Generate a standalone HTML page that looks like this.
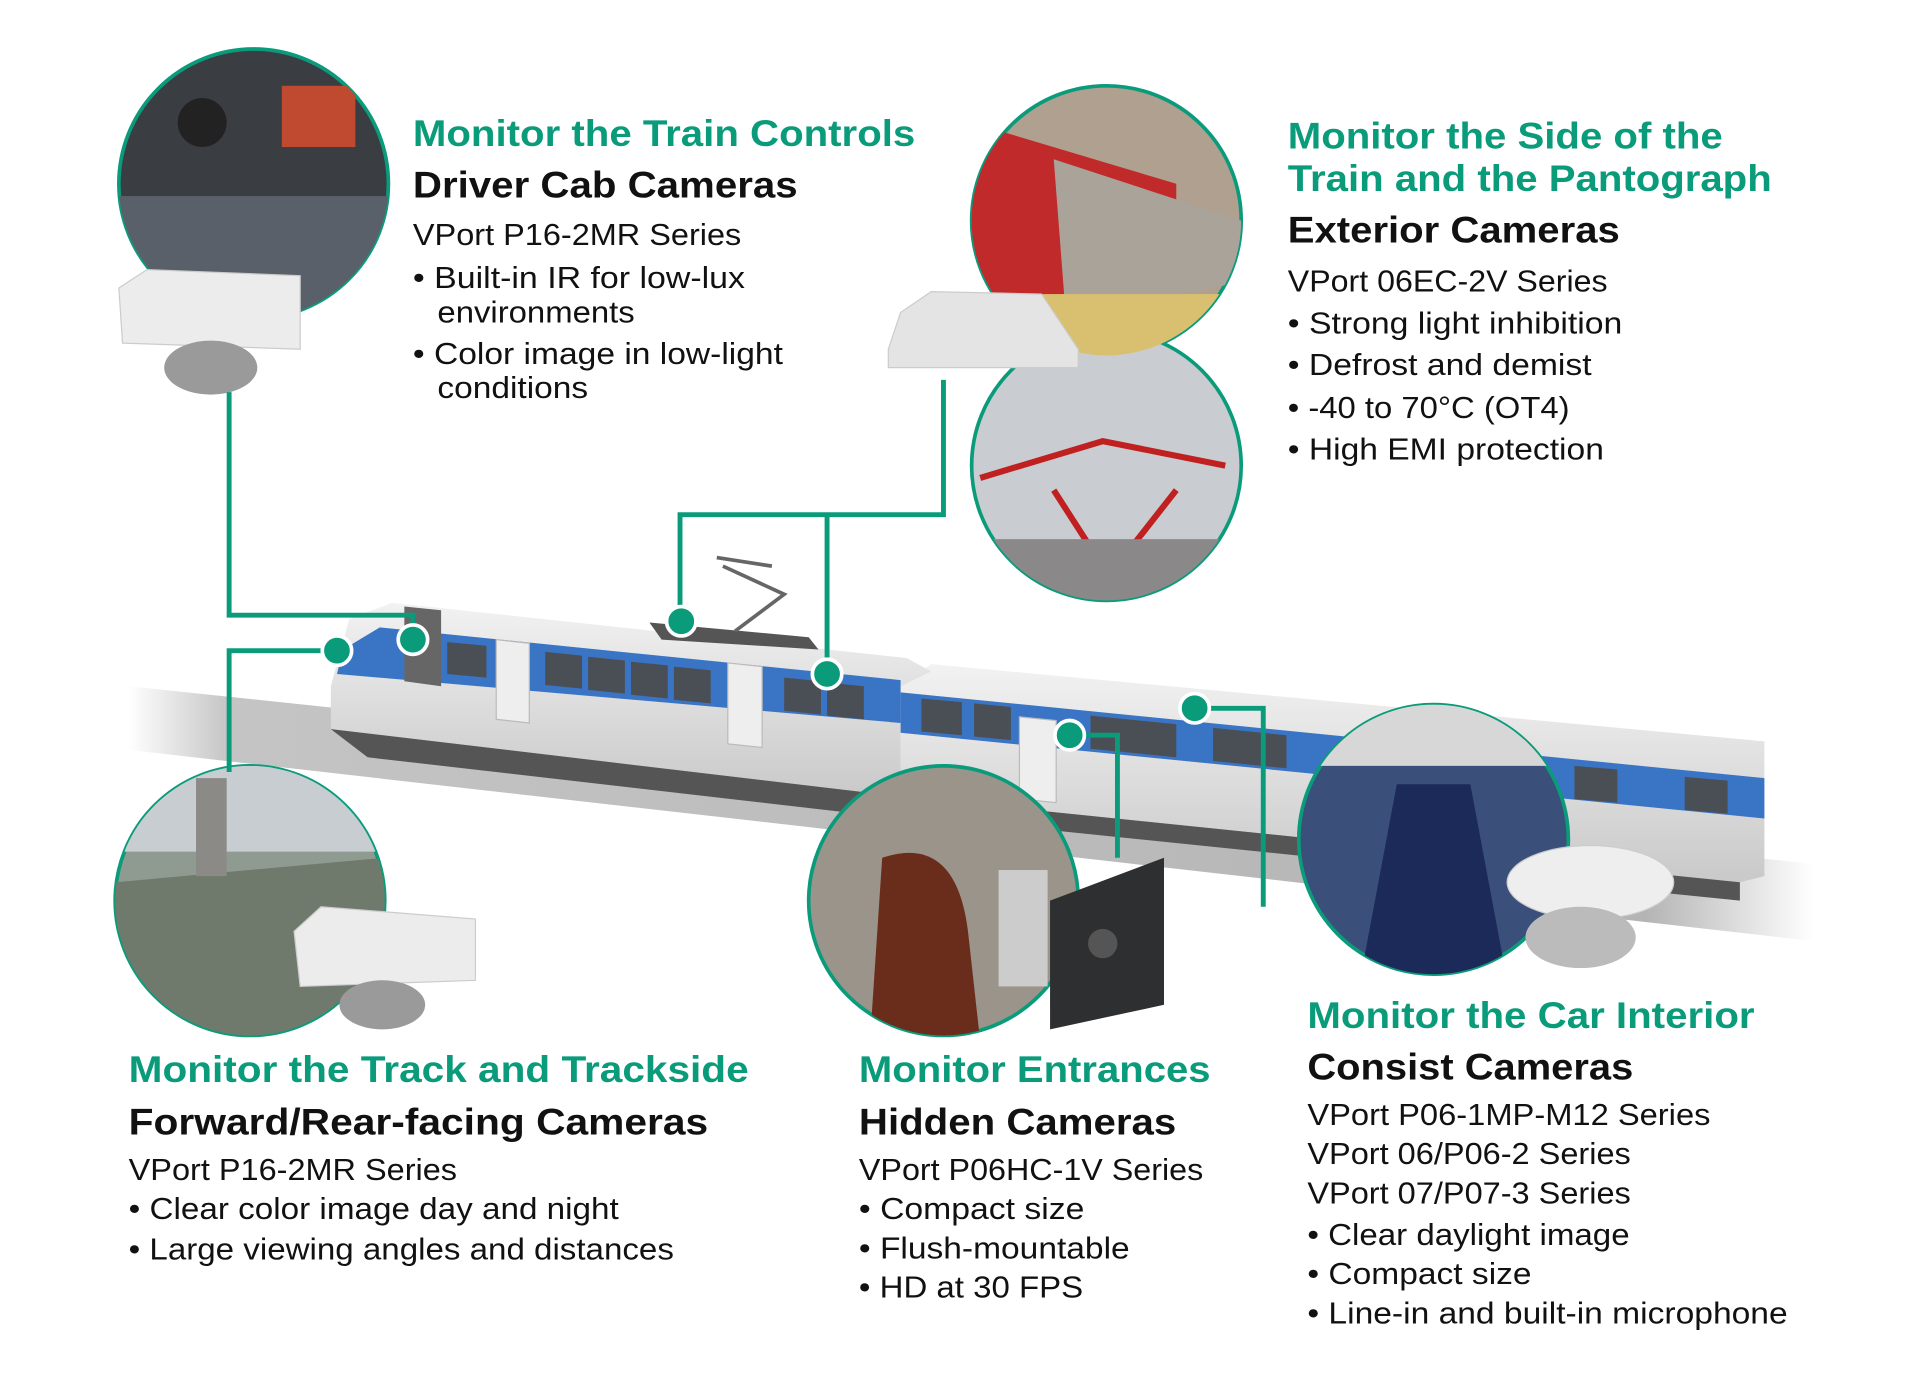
<!DOCTYPE html>
<html><head><meta charset="utf-8"><style>
html,body{margin:0;padding:0;background:#fff;}
svg{display:block;}
.g{fill:#0a9b7b;font-family:"Liberation Sans",sans-serif;font-weight:bold;font-size:30px;}
.b{fill:#111;font-family:"Liberation Sans",sans-serif;font-weight:bold;font-size:30px;}
.r{fill:#111;font-family:"Liberation Sans",sans-serif;font-size:25px;}
</style></head><body>
<svg width="1920" height="1381" viewBox="0 0 1567 1127" preserveAspectRatio="none" xmlns="http://www.w3.org/2000/svg">
<defs>
<linearGradient id="trk" x1="0" y1="0" x2="1" y2="0"><stop offset="0" stop-color="#fff"/><stop offset="0.06" stop-color="#c4c4c4"/><stop offset="0.9" stop-color="#b4b4b4"/><stop offset="1" stop-color="#fff"/></linearGradient>
<linearGradient id="body" x1="0" y1="0" x2="0" y2="1"><stop offset="0" stop-color="#f2f2f2"/><stop offset="1" stop-color="#c9c9c9"/></linearGradient>
<clipPath id="c1"><circle cx="207" cy="150" r="110"/></clipPath>
<clipPath id="c2"><circle cx="903" cy="180" r="110"/></clipPath>
<clipPath id="c3"><circle cx="903" cy="380" r="110"/></clipPath>
<clipPath id="c4"><circle cx="204" cy="735" r="110"/></clipPath>
<clipPath id="c5"><circle cx="770" cy="735" r="110"/></clipPath>
<clipPath id="c6"><circle cx="1170" cy="685" r="110"/></clipPath>
</defs>
<polygon points="105,560 1480,705 1480,768 105,612" fill="url(#trk)"/>
<polygon points="735,560 760,542 1440,605 1440,715 1420,720 735,650" fill="url(#body)"/>
<polygon points="735,565 1440,635 1440,668 735,598" fill="#3a74c4"/>
<g fill="#4a4f55">
<polygon points="752,570 785,573 785,600 752,597"/><polygon points="795,574 825,577 825,604 795,601"/>
<polygon points="890,584 960,591 960,618 890,611"/><polygon points="990,594 1050,600 1050,627 990,621"/>
<polygon points="1285,625 1320,628 1320,655 1285,652"/><polygon points="1375,634 1410,637 1410,664 1375,661"/></g>
<polygon points="735,650 1420,720 1420,735 735,665" fill="#555"/>
<polygon points="270,560 285,505 320,492 740,537 760,548 735,560 735,650 270,595" fill="url(#body)"/>
<polygon points="280,530 310,512 735,555 735,590 275,550" fill="#3a74c4"/>
<polygon points="330,495 360,498 360,560 330,556" fill="#666"/>
<g fill="#4a4f55">
<polygon points="365,524 397,527 397,553 365,550"/><polygon points="445,532 475,535 475,562 445,559"/>
<polygon points="480,536 510,539 510,566 480,563"/><polygon points="515,540 545,543 545,570 515,567"/>
<polygon points="550,544 580,547 580,574 550,571"/><polygon points="640,553 670,556 670,583 640,580"/>
<polygon points="675,557 705,560 705,587 675,584"/></g>
<g fill="#eee" stroke="#bbb"><polygon points="405,522 432,525 432,590 405,587"/><polygon points="594,541 622,544 622,610 594,607"/><polygon points="832,585 862,588 862,655 832,652"/></g>
<polygon points="270,595 735,650 735,668 300,618" fill="#555"/>
<polygon points="530,508 660,520 668,530 540,522" fill="#555"/>
<path d="M600,515 L640,485 L590,462 M585,455 L630,462" stroke="#666" stroke-width="3" fill="none"/>
<g stroke="#0a9b7b" stroke-width="3">
<circle cx="207" cy="150" r="110" fill="#3a3d42"/>
<circle cx="903" cy="180" r="110" fill="#b0a090"/>
<circle cx="903" cy="380" r="110" fill="#c9ccd0"/>
<circle cx="204" cy="735" r="110" fill="#8f9a90"/>
<circle cx="770" cy="735" r="110" fill="#9a948a"/>
<circle cx="1170" cy="685" r="110" fill="#3a4f7a"/>
</g>
<g clip-path="url(#c1)"><rect x="97" y="160" width="220" height="100" fill="#5a6069"/><rect x="230" y="70" width="60" height="50" fill="#c04a30"/><circle cx="165" cy="100" r="20" fill="#222"/></g>
<g clip-path="url(#c2)"><polygon points="793,100 960,150 960,250 793,250" fill="#c02a2a"/><polygon points="860,130 1013,180 1013,230 870,260" fill="#a9a39a"/><rect x="793" y="240" width="220" height="60" fill="#d9c070"/></g>
<g clip-path="url(#c3)"><path d="M800,390 L900,360 L1000,380 M860,400 L905,470 L960,400" stroke="#c02020" stroke-width="5" fill="none"/><rect x="793" y="440" width="220" height="60" fill="#8a8888"/></g>
<g clip-path="url(#c4)"><rect x="94" y="625" width="220" height="70" fill="#c8cdd2"/><polygon points="94,720 314,700 314,850 94,850" fill="#6f7a6c"/><rect x="160" y="635" width="25" height="80" fill="#8b8a86"/></g>
<g clip-path="url(#c5)"><path d="M720,700 Q780,680 790,760 L800,850 L710,850 Z" fill="#6a2d1c"/><rect x="815" y="710" width="40" height="95" fill="#ccc"/></g>
<g clip-path="url(#c6)"><rect x="1060" y="575" width="220" height="50" fill="#d7d7d7"/><polygon points="1140,640 1200,640 1230,800 1110,800" fill="#1c2a5a"/></g>
<polygon points="97,235 120,220 245,225 245,285 100,280" fill="#ececec" stroke="#ccc"/>
<ellipse cx="172" cy="300" rx="38" ry="22" fill="#9a9a9a"/>
<polygon points="735,255 760,238 850,240 880,285 880,300 725,300 725,285" fill="#e4e4e4" stroke="#ccc"/>
<polygon points="240,760 262,740 388,750 388,800 245,805" fill="#ececec" stroke="#ccc"/>
<ellipse cx="312" cy="820" rx="35" ry="20" fill="#9a9a9a"/>
<polygon points="857,735 950,700 950,820 857,840" fill="#2e2f31"/>
<circle cx="900" cy="770" r="12" fill="#555"/>
<ellipse cx="1298" cy="720" rx="68" ry="30" fill="#eeeeee" stroke="#ccc"/>
<ellipse cx="1290" cy="765" rx="45" ry="25" fill="#bbb"/>
<g stroke="#0a9b7b" stroke-width="4" fill="none">
<polyline points="187,320 187,502 337,502 337,522"/>
<polyline points="187,630 187,531 275,531"/>
<polyline points="770,310 770,420 555,420 555,507"/>
<polyline points="675,420 675,550"/>
<polyline points="912,700 912,600 875,600"/>
<polyline points="1031,740 1031,578 975,578"/>
</g>
<g fill="#0a9b7b" stroke="#fff" stroke-width="3">
<circle cx="337" cy="522" r="12"/><circle cx="275" cy="531" r="12"/><circle cx="556" cy="507" r="12"/>
<circle cx="675" cy="550" r="12"/><circle cx="873" cy="600" r="12"/><circle cx="975" cy="578" r="12"/>
</g>
<text class="g" x="337" y="119" textLength="410" lengthAdjust="spacingAndGlyphs">Monitor the Train Controls</text>
<text class="b" x="337" y="161" textLength="314" lengthAdjust="spacingAndGlyphs">Driver Cab Cameras</text>
<text class="r" x="337" y="200" textLength="268" lengthAdjust="spacingAndGlyphs">VPort P16-2MR Series</text>
<text class="r" x="337" y="235" textLength="271" lengthAdjust="spacingAndGlyphs">• Built-in IR for low-lux</text>
<text class="r" x="357" y="263" textLength="161" lengthAdjust="spacingAndGlyphs">environments</text>
<text class="r" x="337" y="297" textLength="302" lengthAdjust="spacingAndGlyphs">• Color image in low-light</text>
<text class="r" x="357" y="325" textLength="123" lengthAdjust="spacingAndGlyphs">conditions</text>
<text class="g" x="1051" y="121" textLength="355" lengthAdjust="spacingAndGlyphs">Monitor the Side of the</text>
<text class="g" x="1051" y="156" textLength="395" lengthAdjust="spacingAndGlyphs">Train and the Pantograph</text>
<text class="b" x="1051" y="198" textLength="271" lengthAdjust="spacingAndGlyphs">Exterior Cameras</text>
<text class="r" x="1051" y="238" textLength="261" lengthAdjust="spacingAndGlyphs">VPort 06EC-2V Series</text>
<text class="r" x="1051" y="272" textLength="273" lengthAdjust="spacingAndGlyphs">• Strong light inhibition</text>
<text class="r" x="1051" y="306" textLength="248" lengthAdjust="spacingAndGlyphs">• Defrost and demist</text>
<text class="r" x="1051" y="341" textLength="230" lengthAdjust="spacingAndGlyphs">• -40 to 70°C (OT4)</text>
<text class="r" x="1051" y="375" textLength="258" lengthAdjust="spacingAndGlyphs">• High EMI protection</text>
<text class="g" x="105" y="883" textLength="506" lengthAdjust="spacingAndGlyphs">Monitor the Track and Trackside</text>
<text class="b" x="105" y="926" textLength="473" lengthAdjust="spacingAndGlyphs">Forward/Rear-facing Cameras</text>
<text class="r" x="105" y="963" textLength="268" lengthAdjust="spacingAndGlyphs">VPort P16-2MR Series</text>
<text class="r" x="105" y="995" textLength="400" lengthAdjust="spacingAndGlyphs">• Clear color image day and night</text>
<text class="r" x="105" y="1028" textLength="445" lengthAdjust="spacingAndGlyphs">• Large viewing angles and distances</text>
<text class="g" x="701" y="883" textLength="287" lengthAdjust="spacingAndGlyphs">Monitor Entrances</text>
<text class="b" x="701" y="926" textLength="259" lengthAdjust="spacingAndGlyphs">Hidden Cameras</text>
<text class="r" x="701" y="963" textLength="281" lengthAdjust="spacingAndGlyphs">VPort P06HC-1V Series</text>
<text class="r" x="701" y="995" textLength="184" lengthAdjust="spacingAndGlyphs">• Compact size</text>
<text class="r" x="701" y="1027" textLength="221" lengthAdjust="spacingAndGlyphs">• Flush-mountable</text>
<text class="r" x="701" y="1059" textLength="183" lengthAdjust="spacingAndGlyphs">• HD at 30 FPS</text>
<text class="g" x="1067" y="839" textLength="365" lengthAdjust="spacingAndGlyphs">Monitor the Car Interior</text>
<text class="b" x="1067" y="881" textLength="266" lengthAdjust="spacingAndGlyphs">Consist Cameras</text>
<text class="r" x="1067" y="918" textLength="329" lengthAdjust="spacingAndGlyphs">VPort P06-1MP-M12 Series</text>
<text class="r" x="1067" y="950" textLength="264" lengthAdjust="spacingAndGlyphs">VPort 06/P06-2 Series</text>
<text class="r" x="1067" y="982" textLength="264" lengthAdjust="spacingAndGlyphs">VPort 07/P07-3 Series</text>
<text class="r" x="1067" y="1016" textLength="263" lengthAdjust="spacingAndGlyphs">• Clear daylight image</text>
<text class="r" x="1067" y="1048" textLength="183" lengthAdjust="spacingAndGlyphs">• Compact size</text>
<text class="r" x="1067" y="1080" textLength="392" lengthAdjust="spacingAndGlyphs">• Line-in and built-in microphone</text>
</svg>
</body></html>
